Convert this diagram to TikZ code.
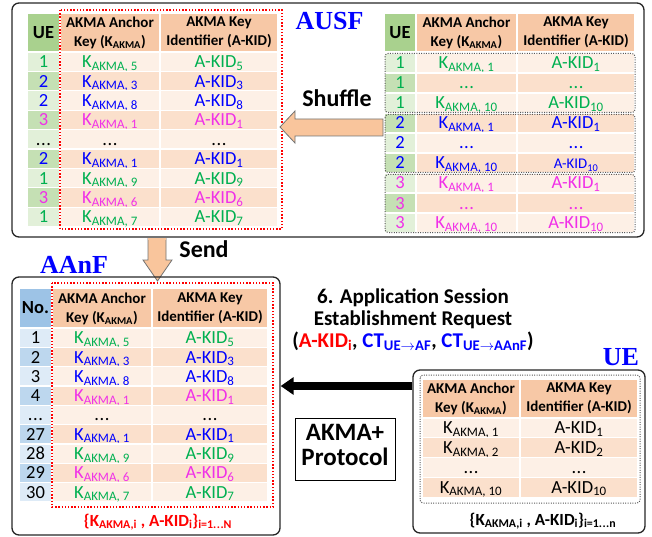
\documentclass[tikz,border=0pt]{standalone}
\usepackage{fontspec}
\setmainfont{Carlito}
\newfontfamily\titlefont{Liberation Serif}
\usetikzlibrary{arrows.meta}
\definecolor{hdr}{HTML}{F7C8A6}
\definecolor{rowD}{HTML}{FBE0CC}
\definecolor{rowL}{HTML}{FDF0E6}
\definecolor{ueH}{HTML}{A9D18E}
\definecolor{ueD}{HTML}{C5E0B4}
\definecolor{ueL}{HTML}{E2F0D9}
\definecolor{noH}{HTML}{9DC3E6}
\definecolor{noD}{HTML}{BDD7EE}
\definecolor{noL}{HTML}{DEEBF7}
\definecolor{cG}{HTML}{00B050}
\definecolor{cB}{HTML}{0000FF}
\definecolor{cM}{HTML}{F030E8}
\definecolor{cK}{HTML}{000000}
\definecolor{arrfill}{HTML}{F9C59C}
\newcommand\Kk[1]{K\textsubscript{AKMA, #1}}
\newcommand\Ak[1]{A-KID\textsubscript{#1}}
\newcommand\Aks[1]{{\fontsize{14.8}{16}\selectfont A-KID\textsubscript{#1}}}
\newcommand\ddd{.\kern0.5pt.\kern0.5pt.}
\tikzset{
  cell/.style={draw=white, line width=1.2pt},
  rowtxt/.style={font=\fontsize{18.5}{20}\selectfont, inner sep=0pt, anchor=base},
  hdrtxt/.style={font=\fontsize{15}{19}\selectfont\bfseries, align=center, inner sep=0pt},
  hdrbig/.style={font=\fontsize{18.5}{20}\selectfont\bfseries, inner sep=0pt},
  ttl/.style={font=\fontsize{26}{28}\selectfont\titlefont\bfseries, text=cB, inner sep=0pt, anchor=base},
  bigbox/.style={draw=black!85, line width=1.3pt, rounded corners=7pt},
  reddot/.style={draw=red, dash pattern=on 1.4pt off 1.8pt, line width=1.4pt},
  graydot/.style={draw=black!65, dash pattern=on 1pt off 1.4pt, line width=1pt, rounded corners=3pt},
  blockarrow/.style={fill=arrfill, draw=black!55, line width=0.8pt},
  lbl/.style={font=\fontsize{24}{26}\selectfont\bfseries, inner sep=0pt, anchor=base},
  msg/.style={font=\fontsize{21}{22}\selectfont\bfseries, inner sep=0pt, anchor=base},
}
\begin{document}
\begin{tikzpicture}[x=1pt,y=-1pt]
\useasboundingbox (0,0) rectangle (652,537);

% ---------- AUSF ----------
\node[bigbox, minimum width=632pt, minimum height=234pt, inner sep=0pt] (ausf) at (328,120) {};
\node[ttl] (ausft) at (329.5,30) {AUSF};

% left table header
\path[cell,fill=ueH] (27,13) rectangle (60,52);
\path[cell,fill=hdr] (60,13) rectangle (160,52) (160,13) rectangle (278,52);
\node[hdrbig] (Lh0) at (43.5,32.5) {UE};
\node[hdrtxt] (Lh1) at (110,33) {AKMA Anchor\\Key (K\textsubscript{AKMA})};
\node[hdrtxt] (Lh2) at (219,32.5) {AKMA Key\\Identifier (A-KID)};
\foreach \cc/\uu/\kk/\dd [count=\i] in {cG/1/\Kk{5}/\Ak{5}, cB/2/\Kk{3}/\Ak{3}, cB/2/\Kk{8}/\Ak{8}, cM/3/\Kk{1}/\Ak{1}, cK/\ddd/\ddd/\ddd, cB/2/\Kk{1}/\Ak{1}, cG/1/\Kk{9}/\Ak{9}, cM/3/\Kk{6}/\Ak{6}, cG/1/\Kk{7}/\Ak{7}}{
  \pgfmathsetmacro\ya{52+(\i-1)*19.4}
  \pgfmathsetmacro\yb{\ya+19.4}
  \pgfmathsetmacro\yt{\ya+9.7+6}
  \ifodd\i \def\fa{ueL}\def\fb{rowL}\else \def\fa{ueD}\def\fb{rowD}\fi
  \path[cell,fill=\fa] (27,\ya) rectangle (60,\yb);
  \path[cell,fill=\fb] (60,\ya) rectangle (160,\yb) (160,\ya) rectangle (278,\yb);
  \node[rowtxt,text=\cc] (Lu\i) at (43.5,\yt) {\uu};
  \node[rowtxt,text=\cc] (Lk\i) at (110,\yt) {\kk};
  \node[rowtxt,text=\cc] (Ld\i) at (219,\yt) {\dd};
}
\draw[reddot] (60,10) rectangle (282,229);

% right table
\path[cell,fill=ueH] (384,13) rectangle (416,52);
\path[cell,fill=hdr] (416,13) rectangle (517,52) (517,13) rectangle (635,52);
\node[hdrbig] (Rh0) at (400,32.5) {UE};
\node[hdrtxt] (Rh1) at (466.5,33) {AKMA Anchor\\Key (K\textsubscript{AKMA})};
\node[hdrtxt] (Rh2) at (576,32.5) {AKMA Key\\Identifier (A-KID)};
\foreach \cc/\uu/\kk/\dd [count=\i] in {cG/1/\Kk{1}/\Ak{1}, cG/1/\ddd/\ddd, cG/1/\Kk{10}/\Ak{10}, cB/2/\Kk{1}/\Ak{1}, cB/2/\ddd/\ddd, cB/2/\Kk{10}/\Aks{10}, cM/3/\Kk{1}/\Ak{1}, cM/3/\ddd/\ddd, cM/3/\Kk{10}/\Ak{10}}{
  \pgfmathsetmacro\ya{53+(\i-1)*20}
  \pgfmathsetmacro\yb{\ya+20}
  \pgfmathsetmacro\yt{\ya+10+6}
  \ifodd\i \def\fa{ueL}\def\fb{rowL}\else \def\fa{ueD}\def\fb{rowD}\fi
  \path[cell,fill=\fa] (384,\ya) rectangle (416,\yb);
  \path[cell,fill=\fb] (416,\ya) rectangle (517,\yb) (517,\ya) rectangle (635,\yb);
  \node[rowtxt,text=\cc] (Ru\i) at (400,\yt) {\uu};
  \node[rowtxt,text=\cc] (Rk\i) at (466.5,\yt) {\kk};
  \node[rowtxt,text=\cc] (Rd\i) at (576,\yt) {\dd};
}
\draw[graydot] (385,53.5) rectangle (635,112.5);
\draw[graydot] (385,114.5) rectangle (635,172.5);
\draw[graydot] (385,174.5) rectangle (635,232.5);

% shuffle arrow
\draw[blockarrow] (383,119) -- (295,119) -- (295,111) -- (280,127) -- (295,143) -- (295,136) -- (383,136) -- cycle;
\node[lbl] (shuf) at (337,107) {Shuffle};

% send arrow
\draw[blockarrow] (148,238) -- (148,260) -- (143,260) -- (157.5,281) -- (172,260) -- (166,260) -- (166,238);
\fill[arrfill] (148.4,237.5) rectangle (165.6,240);
\node[lbl] (send) at (204,257) {Send};

% ---------- AAnF ----------
\node[bigbox, minimum width=268pt, minimum height=258pt, inner sep=0pt] (aanf) at (146,406) {};
\node[ttl] (aanft) at (74,273) {AAnF};
\path[cell,fill=noH] (19,288) rectangle (52,328);
\path[cell,fill=hdr] (52,288) rectangle (152,328) (152,288) rectangle (268,328);
\node[hdrbig] (Ah0) at (35.5,308) {No.};
\node[hdrtxt] (Ah1) at (102,308.5) {AKMA Anchor\\Key (K\textsubscript{AKMA})};
\node[hdrtxt] (Ah2) at (210,308) {AKMA Key\\Identifier (A-KID)};
\foreach \cc/\uu/\kk/\dd [count=\i] in {cG/1/\Kk{5}/\Ak{5}, cB/2/\Kk{3}/\Ak{3}, cB/3/\Kk{8}/\Ak{8}, cM/4/\Kk{1}/\Ak{1}, cK/\ddd/\ddd/\ddd, cB/27/\Kk{1}/\Ak{1}, cG/28/\Kk{9}/\Ak{9}, cM/29/\Kk{6}/\Ak{6}, cG/30/\Kk{7}/\Ak{7}}{
  \pgfmathsetmacro\ya{328+(\i-1)*19.33}
  \pgfmathsetmacro\yb{\ya+19.33}
  \pgfmathsetmacro\yt{\ya+9.67+6}
  \ifodd\i \def\fa{noL}\def\fb{rowL}\else \def\fa{noD}\def\fb{rowD}\fi
  \path[cell,fill=\fa] (19,\ya) rectangle (52,\yb);
  \path[cell,fill=\fb] (52,\ya) rectangle (152,\yb) (152,\ya) rectangle (268,\yb);
  \node[rowtxt,text=black] (Au\i) at (35.5,\yt) {\uu};
  \node[rowtxt,text=\cc] (Ak\i) at (102,\yt) {\kk};
  \node[rowtxt,text=\cc] (Ad\i) at (210,\yt) {\dd};
}
\draw[reddot] (52,283) rectangle (273,507);
\node[font=\fontsize{17}{19}\selectfont\bfseries, text=red, inner sep=0pt, anchor=base] (aset) at (158,526) {\{K\textsubscript{AKMA,i} , A-KID\textsubscript{i}\}\textsubscript{i=1\ddd N}};

% ---------- UE ----------
\node[bigbox, minimum width=232pt, minimum height=163pt, inner sep=0pt] (ueb) at (529,451.5) {};
\node[ttl] (uet) at (621,365) {UE};
\path[cell,fill=hdr] (422,379) rectangle (520,418) (520,379) rectangle (638,418);
\node[hdrtxt] (Uh1) at (471,398.5) {AKMA Anchor\\Key (K\textsubscript{AKMA})};
\node[hdrtxt] (Uh2) at (579,398) {AKMA Key\\Identifier (A-KID)};
\foreach \kk/\dd [count=\i] in {\Kk{1}/\Ak{1}, \Kk{2}/\Ak{2}, \ddd/\ddd, \Kk{10}/\Ak{10}}{
  \pgfmathsetmacro\ya{418+(\i-1)*19.8}
  \pgfmathsetmacro\yb{\ya+19.8}
  \pgfmathsetmacro\yt{\ya+9.9+6}
  \ifodd\i \def\fb{rowL}\else \def\fb{rowD}\fi
  \path[cell,fill=\fb] (422,\ya) rectangle (520,\yb) (520,\ya) rectangle (638,\yb);
  \node[rowtxt,text=black] (Uk\i) at (471,\yt) {\kk};
  \node[rowtxt,text=black] (Ud\i) at (579,\yt) {\dd};
}
\draw[graydot] (420,375) rectangle (640,503);
\node[font=\fontsize{17}{19}\selectfont\bfseries, inner sep=0pt, anchor=base] (uset) at (543,525) {\{K\textsubscript{AKMA,i} , A-KID\textsubscript{i}\}\textsubscript{i=1\ddd n}};

% message
\node[msg] (m1) at (413,303) {6. Application Session};
\node[msg] (m2) at (413,325) {Establishment Request};
\node[msg] (m3) at (413,347) {(\textcolor{red}{A-KID\textsubscript{i}}, \textcolor{cB}{CT\textsubscript{UE$\rightarrow$AF}}, \textcolor{cB}{CT\textsubscript{UE$\rightarrow$AAnF}})};
\coordinate (ay) at (0,386);
\draw[line width=7.5pt, -{Triangle[length=13pt,width=17pt]}] (ay -| ueb.west) -- (ay -| aanf.east);

% protocol box
\node[draw=black, line width=1pt, minimum width=100pt, minimum height=62pt, inner sep=0pt] (proto) at (345,449) {};
\node[font=\fontsize{25}{25}\selectfont\bfseries, inner sep=0pt, anchor=base] (p1) at (345,440) {AKMA+};
\node[font=\fontsize{25}{25}\selectfont\bfseries, inner sep=0pt, anchor=base] (p2) at (345,465) {Protocol};
\end{tikzpicture}
\end{document}
